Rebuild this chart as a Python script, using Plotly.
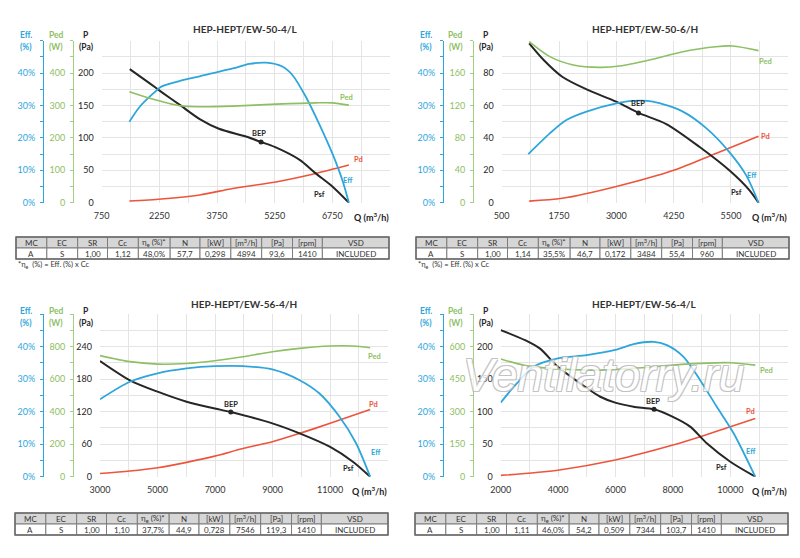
import plotly.graph_objects as go

# ---------------- data ----------------
titles = ["HEP-HEPT/EW-50-4/L", "HEP-HEPT/EW-50-6/H", "HEP-HEPT/EW-56-4/H", "HEP-HEPT/EW-56-4/L"]

# HEP-HEPT/EW-50-4/L
q_psf_1 = [1480, 2000, 2300, 2800, 3300, 3800, 4500, 4894, 5250, 5900, 6300, 6750, 7180]
psf_1 = [206, 184, 171, 150, 129, 114, 102, 93.6, 86, 66, 46, 25, 0]
q_eff_1 = [1470, 1740, 2090, 2300, 2860, 3300, 4160, 4590, 5020, 5450, 5710, 6060, 6400, 6750, 7010, 7180]
eff_1 = [25.0, 29.6, 33.7, 35.8, 37.8, 39.0, 41.4, 42.8, 43.2, 42.0, 39.4, 32.7, 24.5, 15.2, 7.0, 0]
q_ped_1 = [1470, 2000, 2780, 3300, 4160, 5280, 6320, 6750, 7180]
ped_1 = [342, 322, 299, 296, 298, 304, 308, 308, 301]
q_pd_1 = [1470, 2300, 3300, 4160, 5280, 6320, 7180]
pd_1 = [2.6, 5.7, 12, 22, 32, 45, 58]

# HEP-HEPT/EW-50-6/H
q_psf_2 = [1100, 1410, 1820, 2350, 3000, 3484, 4090, 4810, 5500, 5900, 6100]
psf_2 = [98.3, 88.2, 77.7, 69.9, 62.3, 55.4, 48.5, 34.5, 19.1, 7.8, 0]
q_eff_2 = [1080, 1550, 1910, 2350, 3000, 3360, 3800, 4450, 4960, 5460, 5830, 6100]
eff_2 = [15.0, 21.4, 25.5, 28.1, 30.6, 31.4, 31.2, 28.1, 23.0, 15.7, 8.5, 0]
q_ped_2 = [1100, 1550, 2060, 2640, 3070, 3720, 4450, 5170, 5540, 6100]
ped_2 = [198.7, 180.2, 169.9, 167.0, 168.6, 176.0, 186.3, 192.5, 193.3, 187.6]
q_pd_2 = [1100, 1820, 3000, 4250, 5170, 6100]
pd_2 = [1.0, 2.7, 10.0, 20.0, 30.4, 41.0]

# HEP-HEPT/EW-56-4/H
q_psf_3 = [3000, 4040, 5000, 6010, 6990, 7546, 8990, 9940, 11000, 11790, 12390]
psf_3 = [213.5, 178, 157, 138.5, 126, 119.3, 98.5, 80, 55, 27.7, 0]
q_eff_3 = [3000, 4040, 5000, 6010, 6990, 7970, 8990, 9940, 10630, 11320, 11900, 12390]
eff_3 = [23.8, 29.2, 31.8, 33.3, 34.0, 34.0, 33.0, 29.7, 25.6, 18.5, 10.3, 0]
q_ped_3 = [3000, 4040, 5000, 6010, 6990, 7970, 8990, 9940, 11000, 11790, 12390]
ped_3 = [745, 708, 693, 697, 714, 738, 769, 790, 804, 804, 794]
q_pd_3 = [3000, 4040, 5000, 6010, 6990, 7970, 8990, 9940, 11000, 12390]
pd_3 = [6, 10.5, 16.6, 26.5, 38, 52, 64.6, 80, 98.5, 124]

# HEP-HEPT/EW-56-4/L
q_psf_4 = [2000, 2850, 3370, 3990, 4770, 5470, 5990, 6630, 7344, 8000, 8600, 9190, 10000, 10870]
psf_4 = [225.6, 210, 197, 169, 143.6, 123, 114, 107.7, 103.7, 92, 77, 51, 23, 0]
q_eff_4 = [2000, 2560, 3140, 3990, 5000, 5990, 6630, 7330, 7790, 8370, 8950, 9530, 10120, 10870]
eff_4 = [22.8, 28.7, 33.8, 36.4, 37.4, 39.0, 40.8, 41.5, 40.5, 36.9, 29.7, 21.5, 13.3, 0]
q_ped_4 = [2000, 2790, 3990, 5470, 6630, 8000, 8950, 10000, 10870]
ped_4 = [543, 515, 497, 492, 500, 515, 523, 526, 515]
q_pd_4 = [2000, 3990, 5990, 8000, 8950, 10000, 10870]
pd_4 = [2, 10, 25.6, 48.7, 61.5, 77, 89.7]

bep_q = [4894, 3484, 7546, 7344]
bep_p = [93.6, 55.4, 119.3, 103.7]

# axis ticks
x_labels = [[750, 2250, 3750, 5250, 6750], [500, 1750, 3000, 4250, 5500],
            [3000, 5000, 7000, 9000, 11000], [2000, 4000, 6000, 8000, 10000]]
x_max = [8250, 6750, 13000, 12000]
p_labels = [[0, 50, 100, 150, 200], [0, 20, 40, 60, 80], [0, 60, 120, 180, 240], [0, 50, 100, 150, 200]]
ped_labels = [[0, 100, 200, 300, 400], [0, 40, 80, 120, 160], [0, 200, 400, 600, 800], [0, 150, 300, 450, 600]]
eff_labels = [0, 10, 20, 30, 40]

# table
table_header = ["MC", "EC", "SR", "Cc", "η<sub>e</sub> (%)*", "N", "[kW]", "[m<sup>3</sup>/h]", "[Pa]", "[rpm]", "VSD"]
table_rows = [
    ["A", "S", "1,00", "1,12", "48,0%", "57,7", "0,298", "4894", "93,6", "1410", "INCLUDED"],
    ["A", "S", "1,00", "1,14", "35,5%", "46,7", "0,172", "3484", "55,4", "960", "INCLUDED"],
    ["A", "S", "1,00", "1,10", "37,7%", "44,9", "0,728", "7546", "119,3", "1410", "INCLUDED"],
    ["A", "S", "1,00", "1,11", "46,0%", "54,2", "0,509", "7344", "103,7", "1410", "INCLUDED"],
]
col_widths = [31, 31, 30, 31, 32, 30, 31, 31, 31, 30, 67]

curves = [
    (q_psf_1, psf_1, q_eff_1, eff_1, q_ped_1, ped_1, q_pd_1, pd_1),
    (q_psf_2, psf_2, q_eff_2, eff_2, q_ped_2, ped_2, q_pd_2, pd_2),
    (q_psf_3, psf_3, q_eff_3, eff_3, q_ped_3, ped_3, q_pd_3, pd_3),
    (q_psf_4, psf_4, q_eff_4, eff_4, q_ped_4, ped_4, q_pd_4, pd_4),
]

W, H = 800, 558
BLUE = "#2ea6dc"
GREEN = "#8cc063"
RED = "#ec553b"
BLACK = "#262626"
FONT = "Lato"


def px(x):
    return x / W


def py(y):
    return 1 - y / H


def note(text, x, y, size, color, xanchor="center"):
    return dict(text=text, x=px(x), y=py(y), xref="paper", yref="paper", xanchor=xanchor,
                yanchor="middle", showarrow=False, font=dict(family=FONT, size=size, color=color))


# pixel geometry of each panel
panels = [
    dict(l=101.7, r=390.0, t=40.6, b=202.7, eff=43, ped=73, ox=0, title_y=29, h1=35, h2=46.5,
         tbl=(16, 389, 237), foot=265),
    dict(l=501.7, r=788.3, t=40.6, b=202.7, eff=443, ped=473, ox=400, title_y=29, h1=35, h2=46.5,
         tbl=(416, 789, 237), foot=265),
    dict(l=100.0, r=387.7, t=314.2, b=476.7, eff=43, ped=73, ox=0, title_y=303.5, h1=310.5, h2=322.5,
         tbl=(15, 388, 513), foot=None),
    dict(l=500.7, r=787.7, t=314.2, b=476.7, eff=443, ped=473, ox=400, title_y=303.5, h1=310.5, h2=322.5,
         tbl=(415, 788, 513), foot=None),
]

# curve label positions (Q, P) per panel: Ped, Pd, Eff, Psf, BEP
label_pos = [
    [(7114, 163), (7424, 66), (7165, 35), (6405, 13), (4850, 107)],
    [(6261, 87), (6261, 41), (5957, 16.5), (5630, 6), (3471, 61)],
    [(12538, 221), (12503, 134), (12595, 45), (11647, 15), (7543, 133)],
    [(11244, 163), (10721, 100), (10721, 38.5), (9709, 14.5), (7302, 116)],
]

fig = go.Figure()
layout = {}
annotations = []
shapes = []
ROW = 11

for i in range(4):
    g = panels[i]
    xa = "x" if i == 0 else f"x{i + 1}"
    n_p, n_e, n_d = 3 * i + 1, 3 * i + 2, 3 * i + 3
    ya_p = "y" if n_p == 1 else f"y{n_p}"
    ya_e, ya_d = f"y{n_e}", f"y{n_d}"
    qs, ps, qe, ee, qd, dd, qpd, ppd = curves[i]

    fig.add_trace(go.Scatter(x=qpd, y=ppd, xaxis=xa, yaxis=ya_p, mode="lines",
                             line=dict(color=RED, width=1.6, shape="spline", smoothing=0.8)))
    fig.add_trace(go.Scatter(x=qd, y=dd, xaxis=xa, yaxis=ya_d, mode="lines",
                             line=dict(color=GREEN, width=1.6, shape="spline", smoothing=0.8)))
    fig.add_trace(go.Scatter(x=qe, y=ee, xaxis=xa, yaxis=ya_e, mode="lines",
                             line=dict(color=BLUE, width=1.8, shape="spline", smoothing=0.8)))
    fig.add_trace(go.Scatter(x=qs, y=ps, xaxis=xa, yaxis=ya_p, mode="lines",
                             line=dict(color=BLACK, width=2, shape="spline", smoothing=0.8)))
    fig.add_trace(go.Scatter(x=[bep_q[i]], y=[bep_p[i]], xaxis=xa, yaxis=ya_p, mode="markers",
                             marker=dict(color=BLACK, size=5)))

    # x axis: grid every half label step
    xl = x_labels[i]
    step = (xl[1] - xl[0]) / 2
    xgrid = [xl[0] + k * step for k in range(int(round((x_max[i] - xl[0]) / step)) + 1)]
    xtext = [str(int(v)) if v in xl else "" for v in xgrid]
    layout["xaxis" if i == 0 else f"xaxis{i + 1}"] = dict(
        domain=[px(g["l"]), px(g["r"])], anchor=ya_p, range=[xl[0], x_max[i]], automargin=False,
        tickmode="array", tickvals=xgrid, ticktext=xtext, showgrid=True, gridcolor="#e4e4e4",
        gridwidth=1, zeroline=False, showline=False, ticks="", ticklabelstandoff=6,
        tickfont=dict(family=FONT, size=9, color="#333"))

    # P axis
    pl = p_labels[i]
    pstep = (pl[1] - pl[0]) / 2
    pgrid = [k * pstep for k in range(11)]
    ptext = [str(int(v)) if v in pl else "" for v in pgrid]
    layout["yaxis" if n_p == 1 else f"yaxis{n_p}"] = dict(
        domain=[py(g["b"]), py(g["t"])], anchor=xa, range=[0, pgrid[-1]], automargin=False,
        tickmode="array", tickvals=pgrid, ticktext=ptext, showgrid=True, gridcolor="#e4e4e4",
        zeroline=False, showline=False, ticks="", ticklabelstandoff=7,
        tickfont=dict(family=FONT, size=9, color=BLACK))

    # Eff axis
    egrid = [k * 5 for k in range(11)]
    etext = [f"{v}%" if v in eff_labels else "" for v in egrid]
    layout[f"yaxis{n_e}"] = dict(
        overlaying=ya_p, anchor="free", position=px(g["eff"]), side="left", range=[0, 50],
        automargin=False,
        tickmode="array", tickvals=egrid, ticktext=etext, showgrid=False, zeroline=False,
        showline=True, linecolor=BLUE, linewidth=1, ticks="outside", ticklen=3, tickcolor=BLUE,
        ticklabelstandoff=3, tickfont=dict(family=FONT, size=9, color=BLUE))

    # Ped axis
    dl = ped_labels[i]
    dstep = (dl[1] - dl[0]) / 2
    dgrid = [k * dstep for k in range(11)]
    dtext = [str(int(v)) if v in dl else "" for v in dgrid]
    layout[f"yaxis{n_d}"] = dict(
        overlaying=ya_p, anchor="free", position=px(g["ped"]), side="left", range=[0, dgrid[-1]],
        automargin=False,
        tickmode="array", tickvals=dgrid, ticktext=dtext, showgrid=False, zeroline=False,
        showline=True, linecolor="#a3cf85", linewidth=1, ticks="outside", ticklen=3, tickcolor="#a3cf85",
        ticklabelstandoff=3, tickfont=dict(family=FONT, size=9, color=GREEN))

    # title and axis headers
    ox = g["ox"]
    annotations.append(note(f"<b>{titles[i]}</b>", (g["l"] + g["r"]) / 2, g["title_y"], 10, "#333"))
    for txt, xx, col in [("Eff.", 26, BLUE), ("Ped", 56, GREEN), ("P", 86, BLACK)]:
        annotations.append(note(f"<b>{txt}</b>", ox + xx, g["h1"], 8.5, col))
    for txt, xx, col in [("(%)", 26, BLUE), ("(W)", 56, GREEN), ("(Pa)", 86, BLACK)]:
        annotations.append(note(f"<b>{txt}</b>", ox + xx, g["h2"], 8.5, col))
    annotations.append(note("<b>Q (m<sup>3</sup>/h)</b>", g["r"] + 1, g["b"] + 14, 9, "#222", "right"))

    # curve labels
    for (lq, lp), txt, col in zip(label_pos[i], ["Ped", "Pd", "Eff", "Psf", "BEP"],
                                  [GREEN, RED, BLUE, BLACK, BLACK]):
        annotations.append(dict(text=f"<b>{txt}</b>", x=lq, y=lp, xref=xa, yref=ya_p, showarrow=False,
                                xanchor="center", yanchor="middle",
                                font=dict(family=FONT, size=7.5, color=col)))

    # table drawn as shapes + text
    tx0, tx1, ty0 = g["tbl"]
    scale = (tx1 - tx0) / sum(col_widths)
    cx = tx0
    for j, wcol in enumerate(col_widths):
        cw = wcol * scale
        shapes.append(dict(type="rect", xref="paper", yref="paper", x0=px(cx), x1=px(cx + cw),
                           y0=py(ty0 + ROW), y1=py(ty0), fillcolor="#d6d6d6",
                           line=dict(color="#7d7d7d", width=1)))
        shapes.append(dict(type="rect", xref="paper", yref="paper", x0=px(cx), x1=px(cx + cw),
                           y0=py(ty0 + 2 * ROW), y1=py(ty0 + ROW), fillcolor="white",
                           line=dict(color="#7d7d7d", width=1)))
        annotations.append(note(table_header[j], cx + cw / 2, ty0 + ROW / 2, 8, "#333"))
        annotations.append(note(table_rows[i][j], cx + cw / 2, ty0 + 1.5 * ROW, 8, "#333"))
        cx += cw
    shapes.append(dict(type="rect", xref="paper", yref="paper", x0=px(tx0), x1=px(tx1),
                       y0=py(ty0 + 2 * ROW), y1=py(ty0), line=dict(color="#6a6a6a", width=1.5)))
    if g["foot"]:
        annotations.append(note("*η<sub>e</sub>  (%) = Eff. (%) x Cc", ox + 16, g["foot"], 7.5, "#333", "left"))

# watermark
annotations.append(dict(text="Ventilatorry.ru", x=px(603), y=py(375), xref="paper", yref="paper",
                        xanchor="center", yanchor="middle", showarrow=False, opacity=0.8,
                        font=dict(family="Liberation Sans Narrow, Liberation Sans", size=46, color="white",
                                  style="italic",
                                  shadow="-1px -1px 0 #b5b5b5, 1px -1px 0 #b5b5b5, -1px 1px 0 #b5b5b5, 1px 1px 0 #b5b5b5")))

fig.update_layout(
    width=W, height=H, margin=dict(l=0, r=0, t=0, b=0),
    paper_bgcolor="white", plot_bgcolor="white", showlegend=False,
    annotations=annotations, shapes=shapes, **layout)

fig.write_html("out.html", config={"displayModeBar": False},
               post_script="document.body.style.margin = '0px';")
